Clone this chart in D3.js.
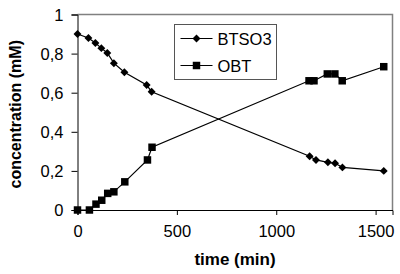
<!DOCTYPE html>
<html>
<head>
<meta charset="utf-8">
<script src="https://cdn.jsdelivr.net/npm/d3@7"></script>
<style>
  body { margin: 0; background: #fff; }
  svg { display: block; font-family: "Liberation Sans", Arial, sans-serif; }
</style>
</head>
<body>
<div id="chart"></div>
<script>
// values
var btsoTime = [0, 55, 90, 120, 150, 183, 236, 348, 373, 1168, 1200, 1260, 1296, 1333, 1541];
var btsoConc = [0.90, 0.88, 0.854, 0.828, 0.803, 0.751, 0.705, 0.639, 0.605, 0.275, 0.256, 0.244, 0.239, 0.218, 0.20];
var obtTime = [0, 60, 93, 122, 152, 183, 238, 352, 375, 1165, 1190, 1257, 1295, 1332, 1541];
var obtConc = [0, 0, 0.03, 0.05, 0.085, 0.093, 0.144, 0.256, 0.321, 0.661, 0.661, 0.696, 0.696, 0.661, 0.733];
var xTicks = [0, 500, 1000, 1500];
var yTicks = [0, 0.2, 0.4, 0.6, 0.8, 1];
var seriesNames = ["BTSO3", "OBT"];

var W = 400, H = 274;
var margin = {top: 14.5, right: 7.5, bottom: 64, left: 77.5};
var graphW = W - margin.left - margin.right;
var graphH = H - margin.top - margin.bottom;

var svg = d3.select("#chart").append("svg")
  .attr("width", W)
  .attr("height", H);

var g = svg.append("g")
  .attr("transform", "translate(" + margin.left + "," + margin.top + ")");

var x = d3.scaleLinear().domain([0, 1585]).range([0, graphW]);
var y = d3.scaleLinear().domain([0, 1]).range([graphH, 0]);

var fmt = function(d) { return String(d).replace(".", ","); };

// plot area frame (grey top + right)
g.append("path")
  .attr("d", "M0,0H" + graphW + "V" + graphH)
  .attr("fill", "none")
  .attr("stroke", "#808080")
  .attr("stroke-width", 1.5);

// axes
var xAxis = g.append("g")
  .attr("transform", "translate(0," + graphH + ")")
  .call(d3.axisBottom(x).tickValues(xTicks).tickSize(5).tickPadding(10).tickFormat(d3.format("d")));
var yAxis = g.append("g")
  .call(d3.axisLeft(y).tickValues(yTicks).tickSize(6).tickPadding(8).tickFormat(fmt));

[xAxis, yAxis].forEach(function(a) {
  a.select(".domain").attr("stroke", "#000");
  a.selectAll(".tick line").attr("stroke", "#000");
  a.selectAll("text")
    .attr("fill", "#000")
    .style("font-family", "Liberation Sans, Arial, sans-serif")
    .style("font-size", "16.5px");
});
yAxis.selectAll("text").attr("dy", "0.36em");

// axis titles
svg.append("text")
  .attr("x", margin.left + graphW / 2)
  .attr("y", 265)
  .attr("text-anchor", "middle")
  .attr("font-weight", "bold")
  .attr("font-size", "17px")
  .text("time (min)");

svg.append("text")
  .attr("transform", "translate(21," + (margin.top + graphH / 2 + 2) + ") rotate(-90)")
  .attr("text-anchor", "middle")
  .attr("font-weight", "bold")
  .attr("font-size", "16px")
  .text("concentration (mM)");

var line = d3.line()
  .x(function(d) { return x(d[0]); })
  .y(function(d) { return y(d[1]); });

var btso = d3.zip(btsoTime, btsoConc);
var obt = d3.zip(obtTime, obtConc);

var diamond = d3.symbol().type(d3.symbolDiamond2).size(40);
var square = d3.symbol().type(d3.symbolSquare).size(56);

[[btso, diamond], [obt, square]].forEach(function(s) {
  g.append("path")
    .datum(s[0])
    .attr("d", line)
    .attr("fill", "none")
    .attr("stroke", "#000")
    .attr("stroke-width", 1.2);
  g.selectAll(null)
    .data(s[0])
    .enter()
    .append("path")
    .attr("transform", function(d) { return "translate(" + x(d[0]) + "," + y(d[1]) + ")"; })
    .attr("d", s[1])
    .attr("fill", "#000");
});

// legend
var leg = svg.append("g").attr("transform", "translate(174.5,24.5)");
leg.append("rect")
  .attr("width", 102)
  .attr("height", 55)
  .attr("fill", "#fff")
  .attr("stroke", "#555")
  .attr("stroke-width", 1);

var syms = [diamond, square];
seriesNames.forEach(function(name, i) {
  var ly = 14 + i * 27;
  leg.append("line")
    .attr("x1", 6).attr("x2", 38)
    .attr("y1", ly).attr("y2", ly)
    .attr("stroke", "#000")
    .attr("stroke-width", 1.2);
  leg.append("path")
    .attr("transform", "translate(22," + ly + ")")
    .attr("d", syms[i])
    .attr("fill", "#000");
  leg.append("text")
    .attr("x", 43)
    .attr("y", ly + 6)
    .attr("font-size", "16.5px")
    .text(name);
});
</script>
</body>
</html>
